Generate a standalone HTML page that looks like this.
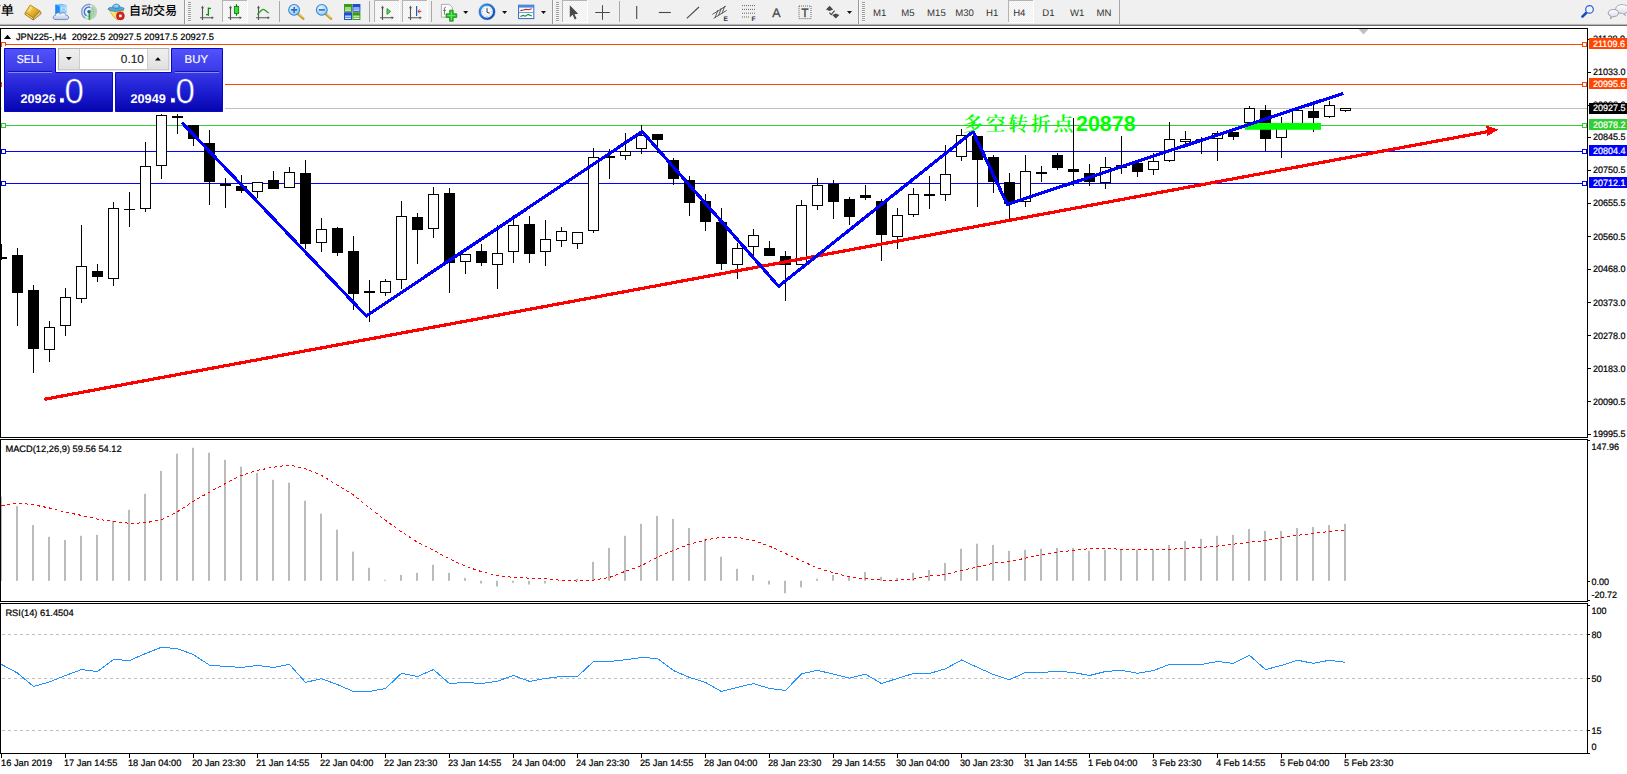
<!DOCTYPE html>
<html lang="zh"><head><meta charset="utf-8"><title>JPN225-,H4</title>
<style>html,body{margin:0;padding:0;background:#fff;overflow:hidden}body{width:1627px;height:774px;position:relative;font-family:"Liberation Sans", sans-serif}svg text{white-space:pre}</style></head>
<body>
<svg width="1627" height="774" viewBox="0 0 1627 774" style="position:absolute;left:0;top:0;font-family:'Liberation Sans', sans-serif" text-rendering="geometricPrecision">
<rect x="0" y="0" width="1627" height="774" fill="#fff" />
<g shape-rendering="crispEdges">
<rect x="1" y="44" width="1586" height="1" fill="#ff4500" />
<rect x="1" y="84" width="1586" height="1" fill="#ff4500" />
<rect x="1" y="108" width="1586" height="1" fill="#c0c0c0" />
<rect x="1" y="125" width="1586" height="1" fill="#32cd32" />
<rect x="1" y="151" width="1586" height="1" fill="#0000ff" />
<rect x="1" y="183" width="1586" height="1" fill="#0000ff" />
<polygon points="1358.5,29 1368.5,29 1363.5,34.5" fill="#c0c0c0" shape-rendering="geometricPrecision"/>
<line x1="2" y1="634.5" x2="1587" y2="634.5" stroke="#bebebe" stroke-width="1" stroke-dasharray="3,3"/>
<line x1="2" y1="678.5" x2="1587" y2="678.5" stroke="#bebebe" stroke-width="1" stroke-dasharray="3,3"/>
<line x1="2" y1="730.5" x2="1587" y2="730.5" stroke="#bebebe" stroke-width="1" stroke-dasharray="3,3"/>
<rect x="0" y="496.7" width="2" height="84.1" fill="#bbbbbb" shape-rendering="geometricPrecision"/>
<rect x="16" y="506.1" width="2" height="74.7" fill="#bbbbbb" shape-rendering="geometricPrecision"/>
<rect x="32" y="525" width="2" height="55.8" fill="#bbbbbb" shape-rendering="geometricPrecision"/>
<rect x="48" y="536.8" width="2" height="44" fill="#bbbbbb" shape-rendering="geometricPrecision"/>
<rect x="64" y="540" width="2" height="40.8" fill="#bbbbbb" shape-rendering="geometricPrecision"/>
<rect x="80" y="535.8" width="2" height="45" fill="#bbbbbb" shape-rendering="geometricPrecision"/>
<rect x="96" y="534.8" width="2" height="46" fill="#bbbbbb" shape-rendering="geometricPrecision"/>
<rect x="112" y="520.8" width="2" height="60" fill="#bbbbbb" shape-rendering="geometricPrecision"/>
<rect x="128" y="509.8" width="2" height="71" fill="#bbbbbb" shape-rendering="geometricPrecision"/>
<rect x="144" y="493.8" width="2" height="87" fill="#bbbbbb" shape-rendering="geometricPrecision"/>
<rect x="160" y="470.9" width="2" height="109.9" fill="#bbbbbb" shape-rendering="geometricPrecision"/>
<rect x="176" y="453.7" width="2" height="127.1" fill="#bbbbbb" shape-rendering="geometricPrecision"/>
<rect x="192" y="447.8" width="2" height="133" fill="#bbbbbb" shape-rendering="geometricPrecision"/>
<rect x="208" y="452.7" width="2" height="128.1" fill="#bbbbbb" shape-rendering="geometricPrecision"/>
<rect x="224" y="459.8" width="2" height="121" fill="#bbbbbb" shape-rendering="geometricPrecision"/>
<rect x="240" y="466.7" width="2" height="114.1" fill="#bbbbbb" shape-rendering="geometricPrecision"/>
<rect x="256" y="472.9" width="2" height="107.9" fill="#bbbbbb" shape-rendering="geometricPrecision"/>
<rect x="272" y="479.8" width="2" height="101" fill="#bbbbbb" shape-rendering="geometricPrecision"/>
<rect x="288" y="482.7" width="2" height="98.1" fill="#bbbbbb" shape-rendering="geometricPrecision"/>
<rect x="304" y="500.7" width="2" height="80.1" fill="#bbbbbb" shape-rendering="geometricPrecision"/>
<rect x="320" y="513.7" width="2" height="67.1" fill="#bbbbbb" shape-rendering="geometricPrecision"/>
<rect x="336" y="529.7" width="2" height="51.1" fill="#bbbbbb" shape-rendering="geometricPrecision"/>
<rect x="352" y="551.6" width="2" height="29.2" fill="#bbbbbb" shape-rendering="geometricPrecision"/>
<rect x="368" y="567.8" width="2" height="13" fill="#bbbbbb" shape-rendering="geometricPrecision"/>
<rect x="384" y="579.8" width="2" height="1" fill="#bbbbbb" shape-rendering="geometricPrecision"/>
<rect x="400" y="574.9" width="2" height="5.9" fill="#bbbbbb" shape-rendering="geometricPrecision"/>
<rect x="416" y="572.9" width="2" height="7.9" fill="#bbbbbb" shape-rendering="geometricPrecision"/>
<rect x="432" y="564.8" width="2" height="16" fill="#bbbbbb" shape-rendering="geometricPrecision"/>
<rect x="448" y="572.9" width="2" height="7.9" fill="#bbbbbb" shape-rendering="geometricPrecision"/>
<rect x="464" y="577.9" width="2" height="2.9" fill="#bbbbbb" shape-rendering="geometricPrecision"/>
<rect x="480" y="580.8" width="2" height="2.7" fill="#bbbbbb" shape-rendering="geometricPrecision"/>
<rect x="496" y="580.8" width="2" height="5.7" fill="#bbbbbb" shape-rendering="geometricPrecision"/>
<rect x="512" y="580.8" width="2" height="2" fill="#bbbbbb" shape-rendering="geometricPrecision"/>
<rect x="528" y="580.8" width="2" height="3.7" fill="#bbbbbb" shape-rendering="geometricPrecision"/>
<rect x="544" y="580.8" width="2" height="2.7" fill="#bbbbbb" shape-rendering="geometricPrecision"/>
<rect x="560" y="580.8" width="2" height="0.5" fill="#bbbbbb" shape-rendering="geometricPrecision"/>
<rect x="576" y="578.8" width="2" height="2" fill="#bbbbbb" shape-rendering="geometricPrecision"/>
<rect x="592" y="561.9" width="2" height="18.9" fill="#bbbbbb" shape-rendering="geometricPrecision"/>
<rect x="608" y="547.9" width="2" height="32.9" fill="#bbbbbb" shape-rendering="geometricPrecision"/>
<rect x="624" y="535.8" width="2" height="45" fill="#bbbbbb" shape-rendering="geometricPrecision"/>
<rect x="640" y="523.8" width="2" height="57" fill="#bbbbbb" shape-rendering="geometricPrecision"/>
<rect x="656" y="515.9" width="2" height="64.9" fill="#bbbbbb" shape-rendering="geometricPrecision"/>
<rect x="672" y="518.9" width="2" height="61.9" fill="#bbbbbb" shape-rendering="geometricPrecision"/>
<rect x="688" y="528" width="2" height="52.8" fill="#bbbbbb" shape-rendering="geometricPrecision"/>
<rect x="704" y="538.8" width="2" height="42" fill="#bbbbbb" shape-rendering="geometricPrecision"/>
<rect x="720" y="556.7" width="2" height="24.1" fill="#bbbbbb" shape-rendering="geometricPrecision"/>
<rect x="736" y="568.8" width="2" height="12" fill="#bbbbbb" shape-rendering="geometricPrecision"/>
<rect x="752" y="574.9" width="2" height="5.9" fill="#bbbbbb" shape-rendering="geometricPrecision"/>
<rect x="768" y="580.8" width="2" height="3.7" fill="#bbbbbb" shape-rendering="geometricPrecision"/>
<rect x="784" y="580.8" width="2" height="12.5" fill="#bbbbbb" shape-rendering="geometricPrecision"/>
<rect x="800" y="580.8" width="2" height="6.6" fill="#bbbbbb" shape-rendering="geometricPrecision"/>
<rect x="816" y="578.8" width="2" height="2" fill="#bbbbbb" shape-rendering="geometricPrecision"/>
<rect x="832" y="574.9" width="2" height="5.9" fill="#bbbbbb" shape-rendering="geometricPrecision"/>
<rect x="848" y="576.4" width="2" height="4.4" fill="#bbbbbb" shape-rendering="geometricPrecision"/>
<rect x="864" y="572" width="2" height="8.8" fill="#bbbbbb" shape-rendering="geometricPrecision"/>
<rect x="880" y="576.9" width="2" height="3.9" fill="#bbbbbb" shape-rendering="geometricPrecision"/>
<rect x="896" y="578.1" width="2" height="2.7" fill="#bbbbbb" shape-rendering="geometricPrecision"/>
<rect x="912" y="572.9" width="2" height="7.9" fill="#bbbbbb" shape-rendering="geometricPrecision"/>
<rect x="928" y="570" width="2" height="10.8" fill="#bbbbbb" shape-rendering="geometricPrecision"/>
<rect x="944" y="562.9" width="2" height="17.9" fill="#bbbbbb" shape-rendering="geometricPrecision"/>
<rect x="960" y="548.8" width="2" height="32" fill="#bbbbbb" shape-rendering="geometricPrecision"/>
<rect x="976" y="543.7" width="2" height="37.1" fill="#bbbbbb" shape-rendering="geometricPrecision"/>
<rect x="992" y="544.9" width="2" height="35.9" fill="#bbbbbb" shape-rendering="geometricPrecision"/>
<rect x="1008" y="550.8" width="2" height="30" fill="#bbbbbb" shape-rendering="geometricPrecision"/>
<rect x="1024" y="549.8" width="2" height="31" fill="#bbbbbb" shape-rendering="geometricPrecision"/>
<rect x="1040" y="548.8" width="2" height="32" fill="#bbbbbb" shape-rendering="geometricPrecision"/>
<rect x="1056" y="547.9" width="2" height="32.9" fill="#bbbbbb" shape-rendering="geometricPrecision"/>
<rect x="1072" y="547.9" width="2" height="32.9" fill="#bbbbbb" shape-rendering="geometricPrecision"/>
<rect x="1088" y="550.8" width="2" height="30" fill="#bbbbbb" shape-rendering="geometricPrecision"/>
<rect x="1104" y="549.8" width="2" height="31" fill="#bbbbbb" shape-rendering="geometricPrecision"/>
<rect x="1120" y="549.1" width="2" height="31.7" fill="#bbbbbb" shape-rendering="geometricPrecision"/>
<rect x="1136" y="549.6" width="2" height="31.2" fill="#bbbbbb" shape-rendering="geometricPrecision"/>
<rect x="1152" y="549.6" width="2" height="31.2" fill="#bbbbbb" shape-rendering="geometricPrecision"/>
<rect x="1168" y="544.9" width="2" height="35.9" fill="#bbbbbb" shape-rendering="geometricPrecision"/>
<rect x="1184" y="541" width="2" height="39.8" fill="#bbbbbb" shape-rendering="geometricPrecision"/>
<rect x="1200" y="538.8" width="2" height="42" fill="#bbbbbb" shape-rendering="geometricPrecision"/>
<rect x="1216" y="535.8" width="2" height="45" fill="#bbbbbb" shape-rendering="geometricPrecision"/>
<rect x="1232" y="534.8" width="2" height="46" fill="#bbbbbb" shape-rendering="geometricPrecision"/>
<rect x="1248" y="528.9" width="2" height="51.9" fill="#bbbbbb" shape-rendering="geometricPrecision"/>
<rect x="1264" y="530.9" width="2" height="49.9" fill="#bbbbbb" shape-rendering="geometricPrecision"/>
<rect x="1280" y="530.9" width="2" height="49.9" fill="#bbbbbb" shape-rendering="geometricPrecision"/>
<rect x="1296" y="528" width="2" height="52.8" fill="#bbbbbb" shape-rendering="geometricPrecision"/>
<rect x="1312" y="527" width="2" height="53.8" fill="#bbbbbb" shape-rendering="geometricPrecision"/>
<rect x="1328" y="525" width="2" height="55.8" fill="#bbbbbb" shape-rendering="geometricPrecision"/>
<rect x="1344" y="523.8" width="2" height="57" fill="#bbbbbb" shape-rendering="geometricPrecision"/>
</g>
<g shape-rendering="crispEdges">
<rect x="1" y="244" width="1" height="16" fill="#000" />
<rect x="1" y="257" width="6" height="2" fill="#000" />
<rect x="17" y="248" width="1" height="78" fill="#000" />
<rect x="12" y="255" width="11" height="38" fill="#000" />
<rect x="33" y="285" width="1" height="88" fill="#000" />
<rect x="28" y="290" width="11" height="59" fill="#000" />
<rect x="49" y="321" width="1" height="41" fill="#000" />
<rect x="44.5" y="327.5" width="10" height="22" fill="#fff" stroke="#000" stroke-width="1"/>
<rect x="65" y="288" width="1" height="48" fill="#000" />
<rect x="60.5" y="297.5" width="10" height="28" fill="#fff" stroke="#000" stroke-width="1"/>
<rect x="81" y="225" width="1" height="78" fill="#000" />
<rect x="76.5" y="266.5" width="10" height="32" fill="#fff" stroke="#000" stroke-width="1"/>
<rect x="97" y="264" width="1" height="18" fill="#000" />
<rect x="92" y="271" width="11" height="6" fill="#000" />
<rect x="113" y="202" width="1" height="84" fill="#000" />
<rect x="108.5" y="208.5" width="10" height="70" fill="#fff" stroke="#000" stroke-width="1"/>
<rect x="129" y="192" width="1" height="35" fill="#000" />
<rect x="124" y="209" width="11" height="1" fill="#000" />
<rect x="145" y="142" width="1" height="70" fill="#000" />
<rect x="140.5" y="166.5" width="10" height="42" fill="#fff" stroke="#000" stroke-width="1"/>
<rect x="161" y="114" width="1" height="65" fill="#000" />
<rect x="156.5" y="115.5" width="10" height="50" fill="#fff" stroke="#000" stroke-width="1"/>
<rect x="177" y="114" width="1" height="20" fill="#000" />
<rect x="172" y="116" width="11" height="2" fill="#000" />
<rect x="193" y="125" width="1" height="21" fill="#000" />
<rect x="188" y="125" width="11" height="14" fill="#000" />
<rect x="209" y="130" width="1" height="75" fill="#000" />
<rect x="204" y="143" width="11" height="39" fill="#000" />
<rect x="225" y="178" width="1" height="30" fill="#000" />
<rect x="220" y="184" width="11" height="2" fill="#000" />
<rect x="241" y="175" width="1" height="18" fill="#000" />
<rect x="236" y="186" width="11" height="5" fill="#000" />
<rect x="257" y="182" width="1" height="16" fill="#000" />
<rect x="252.5" y="182.5" width="10" height="9" fill="#fff" stroke="#000" stroke-width="1"/>
<rect x="273" y="171" width="1" height="18" fill="#000" />
<rect x="268" y="180" width="11" height="9" fill="#000" />
<rect x="289" y="167" width="1" height="21" fill="#000" />
<rect x="284.5" y="172.5" width="10" height="15" fill="#fff" stroke="#000" stroke-width="1"/>
<rect x="305" y="160" width="1" height="89" fill="#000" />
<rect x="300" y="173" width="11" height="71" fill="#000" />
<rect x="321" y="218" width="1" height="34" fill="#000" />
<rect x="316.5" y="229.5" width="10" height="13" fill="#fff" stroke="#000" stroke-width="1"/>
<rect x="337" y="227" width="1" height="29" fill="#000" />
<rect x="332" y="228" width="11" height="25" fill="#000" />
<rect x="353" y="236" width="1" height="74" fill="#000" />
<rect x="348" y="251" width="11" height="43" fill="#000" />
<rect x="369" y="280" width="1" height="42" fill="#000" />
<rect x="364" y="291" width="11" height="2" fill="#000" />
<rect x="385" y="279" width="1" height="17" fill="#000" />
<rect x="380.5" y="281.5" width="10" height="11" fill="#fff" stroke="#000" stroke-width="1"/>
<rect x="401" y="201" width="1" height="88" fill="#000" />
<rect x="396.5" y="216.5" width="10" height="63" fill="#fff" stroke="#000" stroke-width="1"/>
<rect x="417" y="213" width="1" height="51" fill="#000" />
<rect x="412" y="217" width="11" height="13" fill="#000" />
<rect x="433" y="187" width="1" height="51" fill="#000" />
<rect x="428.5" y="194.5" width="10" height="34" fill="#fff" stroke="#000" stroke-width="1"/>
<rect x="449" y="188" width="1" height="105" fill="#000" />
<rect x="444" y="193" width="11" height="70" fill="#000" />
<rect x="465" y="254" width="1" height="20" fill="#000" />
<rect x="460.5" y="254.5" width="10" height="7" fill="#fff" stroke="#000" stroke-width="1"/>
<rect x="481" y="244" width="1" height="22" fill="#000" />
<rect x="476" y="251" width="11" height="12" fill="#000" />
<rect x="497" y="225" width="1" height="64" fill="#000" />
<rect x="492.5" y="253.5" width="10" height="11" fill="#fff" stroke="#000" stroke-width="1"/>
<rect x="513" y="215" width="1" height="48" fill="#000" />
<rect x="508.5" y="225.5" width="10" height="26" fill="#fff" stroke="#000" stroke-width="1"/>
<rect x="529" y="216" width="1" height="47" fill="#000" />
<rect x="524" y="224" width="11" height="30" fill="#000" />
<rect x="545" y="220" width="1" height="46" fill="#000" />
<rect x="540.5" y="239.5" width="10" height="12" fill="#fff" stroke="#000" stroke-width="1"/>
<rect x="561" y="227" width="1" height="20" fill="#000" />
<rect x="556.5" y="231.5" width="10" height="9" fill="#fff" stroke="#000" stroke-width="1"/>
<rect x="577" y="232" width="1" height="17" fill="#000" />
<rect x="572.5" y="232.5" width="10" height="11" fill="#fff" stroke="#000" stroke-width="1"/>
<rect x="593" y="148" width="1" height="85" fill="#000" />
<rect x="588.5" y="157.5" width="10" height="73" fill="#fff" stroke="#000" stroke-width="1"/>
<rect x="609" y="149" width="1" height="30" fill="#000" />
<rect x="604" y="156" width="11" height="2" fill="#000" />
<rect x="625" y="133" width="1" height="27" fill="#000" />
<rect x="620.5" y="151.5" width="10" height="4" fill="#fff" stroke="#000" stroke-width="1"/>
<rect x="641" y="125" width="1" height="29" fill="#000" />
<rect x="636.5" y="135.5" width="10" height="13" fill="#fff" stroke="#000" stroke-width="1"/>
<rect x="657" y="134" width="1" height="19" fill="#000" />
<rect x="652" y="134" width="11" height="6" fill="#000" />
<rect x="673" y="158" width="1" height="27" fill="#000" />
<rect x="668" y="160" width="11" height="19" fill="#000" />
<rect x="689" y="176" width="1" height="40" fill="#000" />
<rect x="684" y="180" width="11" height="23" fill="#000" />
<rect x="705" y="194" width="1" height="37" fill="#000" />
<rect x="700" y="201" width="11" height="21" fill="#000" />
<rect x="721" y="208" width="1" height="62" fill="#000" />
<rect x="716" y="222" width="11" height="42" fill="#000" />
<rect x="737" y="243" width="1" height="36" fill="#000" />
<rect x="732.5" y="248.5" width="10" height="16" fill="#fff" stroke="#000" stroke-width="1"/>
<rect x="753" y="229" width="1" height="29" fill="#000" />
<rect x="748.5" y="235.5" width="10" height="11" fill="#fff" stroke="#000" stroke-width="1"/>
<rect x="769" y="241" width="1" height="15" fill="#000" />
<rect x="764" y="248" width="11" height="8" fill="#000" />
<rect x="785" y="251" width="1" height="50" fill="#000" />
<rect x="780" y="256" width="11" height="9" fill="#000" />
<rect x="801" y="200" width="1" height="65" fill="#000" />
<rect x="796.5" y="205.5" width="10" height="59" fill="#fff" stroke="#000" stroke-width="1"/>
<rect x="817" y="178" width="1" height="32" fill="#000" />
<rect x="812.5" y="185.5" width="10" height="20" fill="#fff" stroke="#000" stroke-width="1"/>
<rect x="833" y="180" width="1" height="39" fill="#000" />
<rect x="828" y="184" width="11" height="18" fill="#000" />
<rect x="849" y="197" width="1" height="28" fill="#000" />
<rect x="844" y="199" width="11" height="18" fill="#000" />
<rect x="865" y="185" width="1" height="15" fill="#000" />
<rect x="860" y="195" width="11" height="3" fill="#000" />
<rect x="881" y="199" width="1" height="62" fill="#000" />
<rect x="876" y="201" width="11" height="34" fill="#000" />
<rect x="897" y="208" width="1" height="41" fill="#000" />
<rect x="892.5" y="215.5" width="10" height="21" fill="#fff" stroke="#000" stroke-width="1"/>
<rect x="913" y="188" width="1" height="29" fill="#000" />
<rect x="908.5" y="194.5" width="10" height="20" fill="#fff" stroke="#000" stroke-width="1"/>
<rect x="929" y="176" width="1" height="33" fill="#000" />
<rect x="924" y="194" width="11" height="2" fill="#000" />
<rect x="945" y="145" width="1" height="56" fill="#000" />
<rect x="940.5" y="174.5" width="10" height="20" fill="#fff" stroke="#000" stroke-width="1"/>
<rect x="961" y="129" width="1" height="32" fill="#000" />
<rect x="956.5" y="135.5" width="10" height="21" fill="#fff" stroke="#000" stroke-width="1"/>
<rect x="977" y="136" width="1" height="71" fill="#000" />
<rect x="972" y="136" width="11" height="24" fill="#000" />
<rect x="993" y="155" width="1" height="38" fill="#000" />
<rect x="988" y="157" width="11" height="25" fill="#000" />
<rect x="1009" y="173" width="1" height="46" fill="#000" />
<rect x="1004" y="182" width="11" height="22" fill="#000" />
<rect x="1025" y="155" width="1" height="52" fill="#000" />
<rect x="1020.5" y="171.5" width="10" height="30" fill="#fff" stroke="#000" stroke-width="1"/>
<rect x="1041" y="166" width="1" height="16" fill="#000" />
<rect x="1036" y="172" width="11" height="2" fill="#000" />
<rect x="1057" y="153" width="1" height="17" fill="#000" />
<rect x="1052" y="155" width="11" height="13" fill="#000" />
<rect x="1073" y="118" width="1" height="68" fill="#000" />
<rect x="1068" y="169" width="11" height="3" fill="#000" />
<rect x="1089" y="164" width="1" height="22" fill="#000" />
<rect x="1084" y="173" width="11" height="9" fill="#000" />
<rect x="1105" y="157" width="1" height="32" fill="#000" />
<rect x="1100.5" y="167.5" width="10" height="15" fill="#fff" stroke="#000" stroke-width="1"/>
<rect x="1121" y="136" width="1" height="38" fill="#000" />
<rect x="1116.5" y="165.5" width="10" height="2" fill="#fff" stroke="#000" stroke-width="1"/>
<rect x="1137" y="163" width="1" height="14" fill="#000" />
<rect x="1132" y="163" width="11" height="9" fill="#000" />
<rect x="1153" y="153" width="1" height="22" fill="#000" />
<rect x="1148.5" y="161.5" width="10" height="8" fill="#fff" stroke="#000" stroke-width="1"/>
<rect x="1169" y="122" width="1" height="40" fill="#000" />
<rect x="1164.5" y="139.5" width="10" height="21" fill="#fff" stroke="#000" stroke-width="1"/>
<rect x="1185" y="131" width="1" height="14" fill="#000" />
<rect x="1180.5" y="139.5" width="10" height="2" fill="#fff" stroke="#000" stroke-width="1"/>
<rect x="1201" y="137" width="1" height="17" fill="#000" />
<rect x="1196" y="139" width="11" height="1" fill="#000" />
<rect x="1217" y="131" width="1" height="30" fill="#000" />
<rect x="1212.5" y="133.5" width="10" height="5" fill="#fff" stroke="#000" stroke-width="1"/>
<rect x="1233" y="132" width="1" height="8" fill="#000" />
<rect x="1228" y="132" width="11" height="5" fill="#000" />
<rect x="1249" y="106" width="1" height="18" fill="#000" />
<rect x="1244.5" y="108.5" width="10" height="14" fill="#fff" stroke="#000" stroke-width="1"/>
<rect x="1265" y="105" width="1" height="46" fill="#000" />
<rect x="1260" y="110" width="11" height="29" fill="#000" />
<rect x="1281" y="117" width="1" height="41" fill="#000" />
<rect x="1276.5" y="125.5" width="10" height="12" fill="#fff" stroke="#000" stroke-width="1"/>
<rect x="1297" y="110" width="1" height="15" fill="#000" />
<rect x="1292.5" y="110.5" width="10" height="14" fill="#fff" stroke="#000" stroke-width="1"/>
<rect x="1313" y="104" width="1" height="28" fill="#000" />
<rect x="1308" y="111" width="11" height="7" fill="#000" />
<rect x="1329" y="101" width="1" height="17" fill="#000" />
<rect x="1324.5" y="105.5" width="10" height="11" fill="#fff" stroke="#000" stroke-width="1"/>
<rect x="1345" y="108" width="1" height="4" fill="#000" />
<rect x="1340.5" y="108.5" width="10" height="2" fill="#fff" stroke="#000" stroke-width="1"/>
</g>
<rect x="1245" y="123" width="76" height="6.8" fill="#00ff00" />
<g shape-rendering="crispEdges">
<line x1="44.3" y1="399.3" x2="1490" y2="131.2" stroke="#ff0000" stroke-width="3.2"/>
<polygon points="1498.5,129.6 1486.3,125.6 1487.4,136" fill="#ff0000"/>
<polyline points="182,122.6 366.3,316 642.2,131.6 778.6,286.3 973,131.6 1007.3,204.4 1343.4,93.3" fill="none" stroke="#0000ff" stroke-width="3.2" stroke-linejoin="round"/>
</g>
<text x="963" y="130.9" font-size="19.8" fill="#00ff00" font-weight="600" textLength="110.4" lengthAdjust="spacing" font-family="'Noto Serif CJK SC', serif">多空转折点</text>
<text x="1076" y="131.4" font-size="21.6" fill="#00ff00" font-weight="bold" textLength="59.6" lengthAdjust="spacingAndGlyphs">20878</text>
<polyline points="1.5,505.6 17.5,502.9 33.5,504.8 49.5,508 65.5,512.2 81.5,515.4 97.5,519.1 113.5,521.6 129.5,523.3 145.5,522.8 161.5,519.6 177.5,511.7 193.5,501.2 209.5,492.1 225.5,483.4 241.5,475.3 257.5,470.4 273.5,467.2 289.5,465 305.5,468.7 321.5,475.3 337.5,485.2 353.5,495 369.5,507.8 385.5,520.3 401.5,531.9 417.5,542.2 433.5,550.3 449.5,558.9 465.5,566.3 481.5,571.7 497.5,575.6 513.5,577.4 529.5,578.1 545.5,578.8 561.5,580.3 577.5,581.1 593.5,580.1 609.5,577.4 625.5,571.2 641.5,565.6 657.5,557.2 673.5,550.3 689.5,544.2 705.5,540 721.5,537.3 737.5,537.3 753.5,540.5 769.5,546.1 785.5,553.5 801.5,560.9 817.5,568 833.5,572.9 849.5,576.9 865.5,578.8 881.5,580.1 897.5,580.1 913.5,579.1 929.5,576.1 945.5,574.4 961.5,570.5 977.5,567 993.5,563.1 1009.5,561.4 1025.5,558.2 1041.5,554.7 1057.5,552.3 1073.5,550.3 1089.5,548.6 1105.5,548.4 1121.5,549.3 1137.5,549.6 1153.5,549.6 1169.5,549.3 1185.5,548.4 1201.5,547.4 1217.5,546.1 1233.5,544.2 1249.5,542.2 1265.5,540.5 1281.5,537.3 1297.5,535.3 1313.5,533.4 1329.5,531.4 1345.5,530.2" fill="none" stroke="#ff0000" stroke-width="1" stroke-dasharray="3,3" shape-rendering="crispEdges"/>
<polyline points="1.5,664.4 17.5,673 33.5,686.5 49.5,681.9 65.5,675.5 81.5,669.6 97.5,671.5 113.5,659.5 129.5,660.5 145.5,653.6 161.5,647.2 177.5,648.7 193.5,654.6 209.5,665.2 225.5,666.4 241.5,667.4 257.5,665.4 273.5,667.4 289.5,664.4 305.5,682.4 321.5,678.7 337.5,684.6 353.5,691.5 369.5,691.5 385.5,688.5 401.5,673.3 417.5,676.5 433.5,669.6 449.5,683.6 465.5,682.4 481.5,683.6 497.5,681.1 513.5,675.5 529.5,681.4 545.5,678.4 561.5,676.5 577.5,676.5 593.5,661.5 609.5,661.5 625.5,659.7 641.5,657.5 657.5,658.5 673.5,670.6 689.5,677.4 705.5,682.4 721.5,691.5 737.5,687.3 753.5,683.6 769.5,688.5 785.5,690.5 801.5,673.8 817.5,670.3 833.5,674.2 849.5,678.2 865.5,674.2 881.5,683.6 897.5,678.4 913.5,673.5 929.5,673.5 945.5,668.8 961.5,660 977.5,667.4 993.5,674.5 1009.5,679.7 1025.5,672.5 1041.5,672.5 1057.5,671.3 1073.5,672.5 1089.5,675.5 1105.5,671.5 1121.5,670.3 1137.5,673.3 1153.5,670.6 1169.5,664.4 1185.5,664.4 1201.5,664.4 1217.5,661.5 1233.5,663.4 1249.5,655.3 1265.5,669.6 1281.5,665.4 1297.5,660.2 1313.5,663.4 1329.5,660.2 1345.5,662.4" fill="none" stroke="#1e90ff" stroke-width="1" stroke-linejoin="round" shape-rendering="crispEdges"/>
<g shape-rendering="crispEdges">
<rect x="0" y="28" width="1" height="726" fill="#000" />
<rect x="0" y="28" width="1588" height="1" fill="#000" />
<rect x="1587" y="28" width="1" height="726" fill="#000" />
<rect x="0" y="437" width="1588" height="1" fill="#000" />
<rect x="0" y="438" width="1588" height="1" fill="#fff" />
<rect x="0" y="439" width="1588" height="1" fill="#000" />
<rect x="0" y="601" width="1588" height="1" fill="#000" />
<rect x="0" y="602" width="1588" height="1" fill="#fff" />
<rect x="0" y="603" width="1588" height="1" fill="#000" />
<rect x="0" y="753" width="1588" height="1" fill="#000" />
<rect x="1" y="754" width="1" height="4" fill="#000" />
<rect x="65" y="754" width="1" height="4" fill="#000" />
<rect x="129" y="754" width="1" height="4" fill="#000" />
<rect x="193" y="754" width="1" height="4" fill="#000" />
<rect x="257" y="754" width="1" height="4" fill="#000" />
<rect x="321" y="754" width="1" height="4" fill="#000" />
<rect x="385" y="754" width="1" height="4" fill="#000" />
<rect x="449" y="754" width="1" height="4" fill="#000" />
<rect x="513" y="754" width="1" height="4" fill="#000" />
<rect x="577" y="754" width="1" height="4" fill="#000" />
<rect x="641" y="754" width="1" height="4" fill="#000" />
<rect x="705" y="754" width="1" height="4" fill="#000" />
<rect x="769" y="754" width="1" height="4" fill="#000" />
<rect x="833" y="754" width="1" height="4" fill="#000" />
<rect x="897" y="754" width="1" height="4" fill="#000" />
<rect x="961" y="754" width="1" height="4" fill="#000" />
<rect x="1025" y="754" width="1" height="4" fill="#000" />
<rect x="1089" y="754" width="1" height="4" fill="#000" />
<rect x="1153" y="754" width="1" height="4" fill="#000" />
<rect x="1217" y="754" width="1" height="4" fill="#000" />
<rect x="1281" y="754" width="1" height="4" fill="#000" />
<rect x="1345" y="754" width="1" height="4" fill="#000" />
<rect x="1588" y="39" width="3" height="1" fill="#000" />
<rect x="1588" y="72" width="3" height="1" fill="#000" />
<rect x="1588" y="105" width="3" height="1" fill="#000" />
<rect x="1588" y="137" width="3" height="1" fill="#000" />
<rect x="1588" y="170" width="3" height="1" fill="#000" />
<rect x="1588" y="203" width="3" height="1" fill="#000" />
<rect x="1588" y="236" width="3" height="1" fill="#000" />
<rect x="1588" y="269" width="3" height="1" fill="#000" />
<rect x="1588" y="302" width="3" height="1" fill="#000" />
<rect x="1588" y="335" width="3" height="1" fill="#000" />
<rect x="1588" y="368" width="3" height="1" fill="#000" />
<rect x="1588" y="401" width="3" height="1" fill="#000" />
<rect x="1588" y="434" width="3" height="1" fill="#000" />
<rect x="1588" y="440" width="2" height="1" fill="#000" />
<rect x="1588" y="581" width="2" height="1" fill="#000" />
<rect x="1588" y="600" width="2" height="1" fill="#000" />
<rect x="1588" y="605" width="2" height="1" fill="#000" />
<rect x="1588" y="634" width="2" height="1" fill="#000" />
<rect x="1588" y="678" width="2" height="1" fill="#000" />
<rect x="1588" y="730" width="2" height="1" fill="#000" />
<rect x="1588" y="753" width="2" height="1" fill="#000" />
</g>
<text transform="translate(1593,41.73) scale(0.97,1)" font-size="9.3" fill="#000" stroke="#000" stroke-width="0.22" text-anchor="start" font-weight="normal" >21128.0</text>
<text transform="translate(1593,74.93) scale(0.97,1)" font-size="9.3" fill="#000" stroke="#000" stroke-width="0.22" text-anchor="start" font-weight="normal" >21033.0</text>
<text transform="translate(1593,107.83) scale(0.97,1)" font-size="9.3" fill="#000" stroke="#000" stroke-width="0.22" text-anchor="start" font-weight="normal" >20938.0</text>
<text transform="translate(1593,140.23) scale(0.97,1)" font-size="9.3" fill="#000" stroke="#000" stroke-width="0.22" text-anchor="start" font-weight="normal" >20845.5</text>
<text transform="translate(1593,173.23) scale(0.97,1)" font-size="9.3" fill="#000" stroke="#000" stroke-width="0.22" text-anchor="start" font-weight="normal" >20750.5</text>
<text transform="translate(1593,206.43) scale(0.97,1)" font-size="9.3" fill="#000" stroke="#000" stroke-width="0.22" text-anchor="start" font-weight="normal" >20655.5</text>
<text transform="translate(1593,239.53) scale(0.97,1)" font-size="9.3" fill="#000" stroke="#000" stroke-width="0.22" text-anchor="start" font-weight="normal" >20560.5</text>
<text transform="translate(1593,272.43) scale(0.97,1)" font-size="9.3" fill="#000" stroke="#000" stroke-width="0.22" text-anchor="start" font-weight="normal" >20468.0</text>
<text transform="translate(1593,305.63) scale(0.97,1)" font-size="9.3" fill="#000" stroke="#000" stroke-width="0.22" text-anchor="start" font-weight="normal" >20373.0</text>
<text transform="translate(1593,338.63) scale(0.97,1)" font-size="9.3" fill="#000" stroke="#000" stroke-width="0.22" text-anchor="start" font-weight="normal" >20278.0</text>
<text transform="translate(1593,371.63) scale(0.97,1)" font-size="9.3" fill="#000" stroke="#000" stroke-width="0.22" text-anchor="start" font-weight="normal" >20183.0</text>
<text transform="translate(1593,404.53) scale(0.97,1)" font-size="9.3" fill="#000" stroke="#000" stroke-width="0.22" text-anchor="start" font-weight="normal" >20090.5</text>
<text transform="translate(1593,437.23) scale(0.97,1)" font-size="9.3" fill="#000" stroke="#000" stroke-width="0.22" text-anchor="start" font-weight="normal" >19995.5</text>
<text transform="translate(1591.5,449.63) scale(0.97,1)" font-size="9.3" fill="#000" stroke="#000" stroke-width="0.22" text-anchor="start" font-weight="normal" >147.96</text>
<text transform="translate(1591.5,584.93) scale(0.97,1)" font-size="9.3" fill="#000" stroke="#000" stroke-width="0.22" text-anchor="start" font-weight="normal" >0.00</text>
<text transform="translate(1591.5,597.93) scale(0.97,1)" font-size="9.3" fill="#000" stroke="#000" stroke-width="0.22" text-anchor="start" font-weight="normal" >-20.72</text>
<text transform="translate(1591.5,613.83) scale(0.97,1)" font-size="9.3" fill="#000" stroke="#000" stroke-width="0.22" text-anchor="start" font-weight="normal" >100</text>
<text transform="translate(1591.5,638.03) scale(0.97,1)" font-size="9.3" fill="#000" stroke="#000" stroke-width="0.22" text-anchor="start" font-weight="normal" >80</text>
<text transform="translate(1591.5,681.73) scale(0.97,1)" font-size="9.3" fill="#000" stroke="#000" stroke-width="0.22" text-anchor="start" font-weight="normal" >50</text>
<text transform="translate(1591.5,734.03) scale(0.97,1)" font-size="9.3" fill="#000" stroke="#000" stroke-width="0.22" text-anchor="start" font-weight="normal" >15</text>
<text transform="translate(1591.5,750.23) scale(0.97,1)" font-size="9.3" fill="#000" stroke="#000" stroke-width="0.22" text-anchor="start" font-weight="normal" >0</text>
<text transform="translate(1.1,766.13) scale(0.995,1)" font-size="9.3" fill="#000" stroke="#000" stroke-width="0.22" text-anchor="start" font-weight="normal" >16 Jan 2019</text>
<text transform="translate(63.9,766.13) scale(0.995,1)" font-size="9.3" fill="#000" stroke="#000" stroke-width="0.22" text-anchor="start" font-weight="normal" >17 Jan 14:55</text>
<text transform="translate(127.9,766.13) scale(0.995,1)" font-size="9.3" fill="#000" stroke="#000" stroke-width="0.22" text-anchor="start" font-weight="normal" >18 Jan 04:00</text>
<text transform="translate(191.9,766.13) scale(0.995,1)" font-size="9.3" fill="#000" stroke="#000" stroke-width="0.22" text-anchor="start" font-weight="normal" >20 Jan 23:30</text>
<text transform="translate(255.9,766.13) scale(0.995,1)" font-size="9.3" fill="#000" stroke="#000" stroke-width="0.22" text-anchor="start" font-weight="normal" >21 Jan 14:55</text>
<text transform="translate(319.9,766.13) scale(0.995,1)" font-size="9.3" fill="#000" stroke="#000" stroke-width="0.22" text-anchor="start" font-weight="normal" >22 Jan 04:00</text>
<text transform="translate(383.9,766.13) scale(0.995,1)" font-size="9.3" fill="#000" stroke="#000" stroke-width="0.22" text-anchor="start" font-weight="normal" >22 Jan 23:30</text>
<text transform="translate(447.9,766.13) scale(0.995,1)" font-size="9.3" fill="#000" stroke="#000" stroke-width="0.22" text-anchor="start" font-weight="normal" >23 Jan 14:55</text>
<text transform="translate(511.9,766.13) scale(0.995,1)" font-size="9.3" fill="#000" stroke="#000" stroke-width="0.22" text-anchor="start" font-weight="normal" >24 Jan 04:00</text>
<text transform="translate(575.9,766.13) scale(0.995,1)" font-size="9.3" fill="#000" stroke="#000" stroke-width="0.22" text-anchor="start" font-weight="normal" >24 Jan 23:30</text>
<text transform="translate(639.9,766.13) scale(0.995,1)" font-size="9.3" fill="#000" stroke="#000" stroke-width="0.22" text-anchor="start" font-weight="normal" >25 Jan 14:55</text>
<text transform="translate(703.9,766.13) scale(0.995,1)" font-size="9.3" fill="#000" stroke="#000" stroke-width="0.22" text-anchor="start" font-weight="normal" >28 Jan 04:00</text>
<text transform="translate(767.9,766.13) scale(0.995,1)" font-size="9.3" fill="#000" stroke="#000" stroke-width="0.22" text-anchor="start" font-weight="normal" >28 Jan 23:30</text>
<text transform="translate(831.9,766.13) scale(0.995,1)" font-size="9.3" fill="#000" stroke="#000" stroke-width="0.22" text-anchor="start" font-weight="normal" >29 Jan 14:55</text>
<text transform="translate(895.9,766.13) scale(0.995,1)" font-size="9.3" fill="#000" stroke="#000" stroke-width="0.22" text-anchor="start" font-weight="normal" >30 Jan 04:00</text>
<text transform="translate(959.9,766.13) scale(0.995,1)" font-size="9.3" fill="#000" stroke="#000" stroke-width="0.22" text-anchor="start" font-weight="normal" >30 Jan 23:30</text>
<text transform="translate(1023.9,766.13) scale(0.995,1)" font-size="9.3" fill="#000" stroke="#000" stroke-width="0.22" text-anchor="start" font-weight="normal" >31 Jan 14:55</text>
<text transform="translate(1087.9,766.13) scale(0.995,1)" font-size="9.3" fill="#000" stroke="#000" stroke-width="0.22" text-anchor="start" font-weight="normal" >1 Feb 04:00</text>
<text transform="translate(1151.9,766.13) scale(0.995,1)" font-size="9.3" fill="#000" stroke="#000" stroke-width="0.22" text-anchor="start" font-weight="normal" >3 Feb 23:30</text>
<text transform="translate(1215.9,766.13) scale(0.995,1)" font-size="9.3" fill="#000" stroke="#000" stroke-width="0.22" text-anchor="start" font-weight="normal" >4 Feb 14:55</text>
<text transform="translate(1279.9,766.13) scale(0.995,1)" font-size="9.3" fill="#000" stroke="#000" stroke-width="0.22" text-anchor="start" font-weight="normal" >5 Feb 04:00</text>
<text transform="translate(1343.9,766.13) scale(0.995,1)" font-size="9.3" fill="#000" stroke="#000" stroke-width="0.22" text-anchor="start" font-weight="normal" >5 Feb 23:30</text>
<rect x="1589" y="38" width="38" height="11" fill="#ff4500" shape-rendering="crispEdges"/>
<text transform="translate(1593,46.93) scale(0.97,1)" font-size="9.3" fill="#fff" stroke="#fff" stroke-width="0.22" text-anchor="start" font-weight="normal" >21109.6</text>
<rect x="1582.5" y="42.5" width="4" height="4" fill="#fff" stroke="#ff4500" stroke-width="1" shape-rendering="crispEdges"/>
<rect x="1.5" y="42.5" width="4" height="4" fill="#fff" stroke="#ff4500" stroke-width="1" shape-rendering="crispEdges"/>
<rect x="1589" y="78" width="38" height="11" fill="#ff4500" shape-rendering="crispEdges"/>
<text transform="translate(1593,86.93) scale(0.97,1)" font-size="9.3" fill="#fff" stroke="#fff" stroke-width="0.22" text-anchor="start" font-weight="normal" >20995.6</text>
<rect x="1582.5" y="82.5" width="4" height="4" fill="#fff" stroke="#ff4500" stroke-width="1" shape-rendering="crispEdges"/>
<rect x="1.5" y="82.5" width="4" height="4" fill="#fff" stroke="#ff4500" stroke-width="1" shape-rendering="crispEdges"/>
<rect x="1589" y="119" width="38" height="11" fill="#32cd32" shape-rendering="crispEdges"/>
<text transform="translate(1593,127.93) scale(0.97,1)" font-size="9.3" fill="#fff" stroke="#fff" stroke-width="0.22" text-anchor="start" font-weight="normal" >20878.2</text>
<rect x="1582.5" y="123.5" width="4" height="4" fill="#fff" stroke="#32cd32" stroke-width="1" shape-rendering="crispEdges"/>
<rect x="1.5" y="123.5" width="4" height="4" fill="#fff" stroke="#32cd32" stroke-width="1" shape-rendering="crispEdges"/>
<rect x="1589" y="145" width="38" height="11" fill="#0000ff" shape-rendering="crispEdges"/>
<text transform="translate(1593,153.93) scale(0.97,1)" font-size="9.3" fill="#fff" stroke="#fff" stroke-width="0.22" text-anchor="start" font-weight="normal" >20804.4</text>
<rect x="1582.5" y="149.5" width="4" height="4" fill="#fff" stroke="#0000ff" stroke-width="1" shape-rendering="crispEdges"/>
<rect x="1.5" y="149.5" width="4" height="4" fill="#fff" stroke="#0000ff" stroke-width="1" shape-rendering="crispEdges"/>
<rect x="1589" y="177" width="38" height="11" fill="#0000ff" shape-rendering="crispEdges"/>
<text transform="translate(1593,185.93) scale(0.97,1)" font-size="9.3" fill="#fff" stroke="#fff" stroke-width="0.22" text-anchor="start" font-weight="normal" >20712.1</text>
<rect x="1582.5" y="181.5" width="4" height="4" fill="#fff" stroke="#0000ff" stroke-width="1" shape-rendering="crispEdges"/>
<rect x="1.5" y="181.5" width="4" height="4" fill="#fff" stroke="#0000ff" stroke-width="1" shape-rendering="crispEdges"/>
<rect x="1589" y="103" width="38" height="11" fill="#000" shape-rendering="crispEdges"/>
<text transform="translate(1593,111.43) scale(0.97,1)" font-size="9.3" fill="#fff" stroke="#fff" stroke-width="0.22" text-anchor="start" font-weight="normal" >20927.5</text>
<polygon points="3.9,39.1 11.1,39.1 7.5,34.7" fill="#000"/>
<text transform="translate(15.9,39.83) scale(1.0,1)" font-size="9.3" fill="#000" stroke="#000" stroke-width="0.22" text-anchor="start" font-weight="normal" xml:space="preserve">JPN225-,H4&#160;&#160;20922.5 20927.5 20917.5 20927.5</text>
<text transform="translate(5.4,451.73) scale(1.0,1)" font-size="9.3" fill="#000" stroke="#000" stroke-width="0.22" text-anchor="start" font-weight="normal" >MACD(12,26,9) 59.56 54.12</text>
<text transform="translate(5.4,615.83) scale(1.0,1)" font-size="9.3" fill="#000" stroke="#000" stroke-width="0.22" text-anchor="start" font-weight="normal" >RSI(14) 61.4504</text>
<defs><linearGradient id="gPanel" gradientUnits="userSpaceOnUse" x1="0" y1="48" x2="0" y2="112"><stop offset="0" stop-color="#5454fc"/><stop offset="0.36" stop-color="#3a3ae8"/><stop offset="0.7" stop-color="#1c1cd0"/><stop offset="1" stop-color="#0404ac"/></linearGradient><linearGradient id="gBtn" x1="0" y1="0" x2="0" y2="1"><stop offset="0" stop-color="#f0f0f0"/><stop offset="1" stop-color="#e0e0e0"/></linearGradient></defs>
<rect x="2" y="46" width="223" height="67" fill="#fff" />
<path d="M4.5 48.5H55.5V72.5H112.5V111.5H4.5Z" fill="url(#gPanel)" stroke="#0808c4" stroke-width="1"/>
<path d="M171.5 48.5H222.5V111.5H115.5V72.5H171.5Z" fill="url(#gPanel)" stroke="#0808c4" stroke-width="1"/>
<rect x="8" y="71" width="44" height="1" fill="#1414b4" />
<rect x="8" y="72" width="44" height="1" fill="#8c8cf8" />
<rect x="175" y="71" width="44" height="1" fill="#1414b4" />
<rect x="175" y="72" width="44" height="1" fill="#8c8cf8" />
<rect x="58.4" y="48.5" width="110.4" height="21.3" fill="#fff" stroke="#ababab" stroke-width="1"/>
<rect x="59" y="49" width="20.4" height="20.3" fill="url(#gBtn)"/><rect x="79.2" y="49" width="0.8" height="20.3" fill="#c4c4c4"/>
<rect x="147.8" y="49" width="20.4" height="20.3" fill="url(#gBtn)"/><rect x="147.2" y="49" width="0.8" height="20.3" fill="#c4c4c4"/>
<polygon points="66,57 71.8,57 68.9,60.2" fill="#000"/>
<polygon points="155,60.4 160.8,60.4 157.9,57.2" fill="#000"/>
<text transform="translate(143.8,62.82) scale(1.0,1)" font-size="11.8" fill="#222" stroke="#222" stroke-width="0.15" text-anchor="end" font-weight="normal" >0.10</text>
<text transform="translate(16.7,63.38) scale(0.925,1)" font-size="11.4" fill="#fff" stroke="#fff" stroke-width="0.15" text-anchor="start" font-weight="normal" >SELL</text>
<text transform="translate(184.6,63.38) scale(1.0,1)" font-size="11.4" fill="#fff" stroke="#fff" stroke-width="0.15" text-anchor="start" font-weight="normal" >BUY</text>
<text transform="translate(20.5,102.95) scale(1.0,1)" font-size="12.7" fill="#fff" text-anchor="start" font-weight="bold" >20926</text>
<text transform="translate(130.5,102.95) scale(1.0,1)" font-size="12.7" fill="#fff" text-anchor="start" font-weight="bold" >20949</text>
<text x="54.9" y="103.1" font-size="50" fill="#fff" stroke="url(#gPanel)" stroke-width="1">.</text>
<text x="64.5" y="103.2" font-size="34.8" fill="#fff" stroke="url(#gPanel)" stroke-width="0.4">0</text>
<text x="166" y="103.1" font-size="50" fill="#fff" stroke="url(#gPanel)" stroke-width="1">.</text>
<text x="175.6" y="103.2" font-size="34.8" fill="#fff" stroke="url(#gPanel)" stroke-width="0.4">0</text>
<g id="toolbar">
<defs><linearGradient id="tbEdge" x1="0" y1="0" x2="0" y2="1"><stop offset="0" stop-color="#fbfbfb"/><stop offset="0.35" stop-color="#dcdcdc"/><stop offset="0.8" stop-color="#6c6c6c"/><stop offset="1" stop-color="#707070"/></linearGradient><linearGradient id="gGold" x1="0" y1="0" x2="1" y2="1"><stop offset="0" stop-color="#fbe27a"/><stop offset="0.5" stop-color="#e8b830"/><stop offset="1" stop-color="#b87c14"/></linearGradient><linearGradient id="gBlueBox" x1="0" y1="0" x2="1" y2="1"><stop offset="0" stop-color="#7cc8ff"/><stop offset="1" stop-color="#1070d8"/></linearGradient><linearGradient id="gCloud" x1="0" y1="0" x2="0" y2="1"><stop offset="0" stop-color="#ffffff"/><stop offset="1" stop-color="#b8c8e4"/></linearGradient><radialGradient id="gLens" cx="0.4" cy="0.35" r="0.7"><stop offset="0" stop-color="#eaf6ff"/><stop offset="1" stop-color="#8cc8f4"/></radialGradient><radialGradient id="gClock" cx="0.5" cy="0.45" r="0.6"><stop offset="0" stop-color="#ffffff"/><stop offset="0.8" stop-color="#e8eef8"/><stop offset="1" stop-color="#c0d0e8"/></radialGradient><linearGradient id="gBubble" x1="0" y1="0" x2="0" y2="1"><stop offset="0" stop-color="#ffffff"/><stop offset="1" stop-color="#d4d6e8"/></linearGradient><pattern id="pPressed" width="2" height="2" patternUnits="userSpaceOnUse"><rect width="2" height="2" fill="#fbfbfb"/><rect width="1" height="1" fill="#efefef"/><rect x="1" y="1" width="1" height="1" fill="#efefef"/></pattern></defs>
<rect x="0" y="0" width="1627" height="23.4" fill="#f0f0f0"/>
<rect x="0" y="23" width="1627" height="3" fill="url(#tbEdge)"/>
<text x="13.9" y="14.8" font-size="13.2" text-anchor="end" fill="#000" font-weight="500" font-family="'Liberation Sans','Noto Sans CJK SC',sans-serif">新订单</text>
<g stroke-linejoin="round"><polygon points="40,11 41.2,13.7 33.3,20 33.2,17.6" fill="#e8d8a0" stroke="#9a6410" stroke-width="0.8"/><path d="M40.4 12.2L33.3 18.6" stroke="#a87820" stroke-width="0.5"/><polygon points="25.3,12.4 33.2,17.6 33.1,20 24.9,14.3" fill="#e4b43c" stroke="#a06a10" stroke-width="0.8"/><path d="M25.6 13.4L33 18.6" stroke="#f8e490" stroke-width="0.8"/><polygon points="30.2,5 40,11 33.2,17.6 25.3,12.4" fill="url(#gGold)" stroke="#b07c14" stroke-width="0.8"/><path d="M29 11.6L31.6 7.2" stroke="#fff8c8" stroke-width="2" opacity="0.45"/></g>
<g><polygon points="55.2,4.6 59.9,5.7 59.9,13.8 55.2,14.2" fill="#1c8cf4"/><polygon points="55.2,4.6 62,3.9 66.6,5 59.9,5.7" fill="#5cb8ff"/><polygon points="59.9,5.7 66.6,5 66.6,13.6 59.9,13.8" fill="#8cccff"/><polygon points="61.2,7.2 65.6,6.8 65.6,10.2 61.2,10.5" fill="#eaf6ff"/><path d="M61.8 8.2L65 7.9M61.8 9.6L65 9.3" stroke="#3a90e8" stroke-width="0.6"/><path d="M56 19.6C52.4 19.6 52.2 15.6 55.4 15.4C55.6 12.6 59.2 12 60.6 14C62.2 12 65.6 12.8 65.8 15.2C69.4 15.2 69.8 19.6 66.2 19.6Z" fill="url(#gCloud)" stroke="#5c78b4" stroke-width="0.8"/></g>
<g fill="none"><path d="M89 11.8L89 19.6A7.8 7.8 0 0 0 92.9 5Z" fill="#9ccc9c" opacity="0.75"/><circle cx="89" cy="11.8" r="7.4" stroke="#b8d4c0" stroke-width="1.3"/><path d="M90.5 4.6A7.4 7.4 0 0 0 85 18" stroke="#7c9ce0" stroke-width="1.4"/><circle cx="89" cy="11.8" r="4.6" stroke="#a0c8b0" stroke-width="1.2"/><path d="M90 7.3A4.6 4.6 0 0 0 86.4 15.6" stroke="#4a78d8" stroke-width="1.4"/><path d="M89.4 19.8V12.2" stroke="#22aa22" stroke-width="1.7"/><circle cx="89" cy="11.6" r="1.7" fill="#2858c8" stroke="none"/></g>
<g><path d="M109.4 10C111 13.6 113.6 17.4 117.2 19.9C120 18 122.6 13.8 123.6 10Z" fill="#f6d44c" stroke="#c8a020" stroke-width="0.6"/><path d="M110 10.4L116.8 18.8L115 13Z" fill="#fff0a0" opacity="0.7"/><path d="M107.9 9.2C108.6 7 111.4 7.6 112.6 7.2C112.8 3 119.8 3 120 7.2C121.4 7.6 123.6 6.8 124.2 9C120.6 12 111.6 12 107.9 9.2Z" fill="#52a8dc" stroke="#2a7cb4" stroke-width="0.7"/><ellipse cx="116.2" cy="6" rx="2.6" ry="1.6" fill="#8cd0f4"/><path d="M112.6 7.6C114.6 8.8 118 8.8 120 7.6" stroke="#2a7cb4" stroke-width="0.6" fill="none"/><circle cx="120.4" cy="15.9" r="4" fill="#d82020" stroke="#a80c0c" stroke-width="0.5"/><rect x="119.1" y="14.6" width="2.6" height="2.6" fill="#fff"/></g>
<text x="128.9" y="15.05" font-size="12.5" fill="#000" font-weight="500" textLength="48.2" lengthAdjust="spacingAndGlyphs" font-family="'Liberation Sans','Noto Sans CJK SC',sans-serif">自动交易</text>
<rect x="184" y="0" width="1" height="24" fill="#9a9a9a"/><rect x="185" y="0" width="1" height="24" fill="#fafafa"/>
<rect x="188" y="2" width="3" height="1" fill="#9c9c9c"/><rect x="188" y="3" width="3" height="1" fill="#f8f8f8"/>
<rect x="188" y="4" width="3" height="1" fill="#9c9c9c"/><rect x="188" y="5" width="3" height="1" fill="#f8f8f8"/>
<rect x="188" y="6" width="3" height="1" fill="#9c9c9c"/><rect x="188" y="7" width="3" height="1" fill="#f8f8f8"/>
<rect x="188" y="8" width="3" height="1" fill="#9c9c9c"/><rect x="188" y="9" width="3" height="1" fill="#f8f8f8"/>
<rect x="188" y="10" width="3" height="1" fill="#9c9c9c"/><rect x="188" y="11" width="3" height="1" fill="#f8f8f8"/>
<rect x="188" y="12" width="3" height="1" fill="#9c9c9c"/><rect x="188" y="13" width="3" height="1" fill="#f8f8f8"/>
<rect x="188" y="14" width="3" height="1" fill="#9c9c9c"/><rect x="188" y="15" width="3" height="1" fill="#f8f8f8"/>
<rect x="188" y="16" width="3" height="1" fill="#9c9c9c"/><rect x="188" y="17" width="3" height="1" fill="#f8f8f8"/>
<rect x="188" y="18" width="3" height="1" fill="#9c9c9c"/><rect x="188" y="19" width="3" height="1" fill="#f8f8f8"/>
<rect x="188" y="20" width="3" height="1" fill="#9c9c9c"/><rect x="188" y="21" width="3" height="1" fill="#f8f8f8"/>
<g stroke="#545454" stroke-width="1.1" fill="none"><path d="M202.5 7.4V20M200 17.7H212.4"/></g><polygon points="202.5,5.6 204,8.2 201,8.2" fill="#545454"/><polygon points="213.9,17.7 211.6,16.2 211.6,19.2" fill="#545454"/>
<path d="M208.4 7.4V15.7M208.4 8.3H211M206 14.6H208.4" stroke="#0c8c0c" stroke-width="1.3" fill="none"/>
<rect x="222" y="0" width="26" height="23" fill="#fdfdfd"/>
<rect x="222" y="0" width="25" height="22" fill="url(#pPressed)"/>
<rect x="222" y="0" width="25" height="0.8" fill="#a4a4a4"/>
<rect x="222" y="0" width="1" height="22" fill="#b4b4b4"/>
<g stroke="#545454" stroke-width="1.1" fill="none"><path d="M230.5 7.4V20M228 17.7H240.4"/></g><polygon points="230.5,5.6 232,8.2 229,8.2" fill="#545454"/><polygon points="241.9,17.7 239.6,16.2 239.6,19.2" fill="#545454"/>
<path d="M236.5 4.2V15.7" stroke="#0a7a0a" stroke-width="1.2"/><rect x="234.4" y="6.4" width="4.2" height="7" fill="#3cdc3c" stroke="#0a8a0a" stroke-width="0.9"/>
<g stroke="#545454" stroke-width="1.1" fill="none"><path d="M258.5 7.4V20M256 17.7H268.4"/></g><polygon points="258.5,5.6 260,8.2 257,8.2" fill="#545454"/><polygon points="269.9,17.7 267.6,16.2 267.6,19.2" fill="#545454"/>
<path d="M257.3 14.6C259.6 12.4 261.4 9.3 263.2 9.3C265 9.3 266.6 12.2 268.8 13" stroke="#2a9a2a" stroke-width="1.3" fill="none"/>
<rect x="279" y="1" width="1" height="21" fill="#a8a8a8"/>
<g><path d="M298.1 14L303.3 18.6" stroke="#c8a028" stroke-width="2.6" stroke-linecap="round"/><path d="M298.5 13.6L303.3 17.8" stroke="#f4dc78" stroke-width="0.9"/><circle cx="294.1" cy="9.9" r="5.4" fill="url(#gLens)" stroke="#3a86d4" stroke-width="1.1"/><path d="M291.1 9.9H297.1M294.1 6.9V12.9" stroke="#2c6cc0" stroke-width="1.6"/></g>
<g><path d="M325.8 14L331.0 18.6" stroke="#c8a028" stroke-width="2.6" stroke-linecap="round"/><path d="M326.2 13.6L331.0 17.8" stroke="#f4dc78" stroke-width="0.9"/><circle cx="321.8" cy="9.9" r="5.4" fill="url(#gLens)" stroke="#3a86d4" stroke-width="1.1"/><path d="M318.8 9.9H324.8" stroke="#2c6cc0" stroke-width="1.6"/></g>
<g><rect x="344" y="4" width="8" height="7.8" fill="#3a9a1a"/><rect x="352.4" y="4" width="8" height="7.8" fill="#1a50c8"/><rect x="344" y="12.2" width="8" height="7.8" fill="#1a50c8"/><rect x="352.4" y="12.2" width="8" height="7.8" fill="#3a9a1a"/><rect x="345" y="7.4" width="6" height="3.4" fill="#e8f8e0"/><rect x="353.4" y="7.4" width="6" height="3.4" fill="#e0ecff"/><rect x="345" y="15.6" width="6" height="3.4" fill="#e0ecff"/><rect x="353.4" y="15.6" width="6" height="3.4" fill="#e8f8e0"/><rect x="345" y="8.6" width="6" height="0.8" fill="#3a9a1a"/><rect x="353.4" y="8.6" width="6" height="0.8" fill="#1a50c8"/><rect x="345" y="16.8" width="6" height="0.8" fill="#1a50c8"/><rect x="353.4" y="16.8" width="6" height="0.8" fill="#3a9a1a"/></g>
<rect x="369" y="1" width="1" height="21" fill="#a8a8a8"/>
<rect x="374" y="0" width="26" height="23" fill="#fdfdfd"/>
<rect x="374" y="0" width="25" height="22" fill="url(#pPressed)"/>
<rect x="374" y="0" width="25" height="0.8" fill="#a4a4a4"/>
<rect x="374" y="0" width="1" height="22" fill="#b4b4b4"/>
<g stroke="#545454" stroke-width="1.1" fill="none"><path d="M382.5 7.4V20M380 17.7H392.4"/></g><polygon points="382.5,5.6 384,8.2 381,8.2" fill="#545454"/><polygon points="393.9,17.7 391.6,16.2 391.6,19.2" fill="#545454"/>
<polygon points="387,8.6 387,14.4 390.6,11.5" fill="#6ad06a" stroke="#1a9a1a" stroke-width="0.9"/>
<rect x="402" y="0" width="26" height="23" fill="#fdfdfd"/>
<rect x="402" y="0" width="25" height="22" fill="url(#pPressed)"/>
<rect x="402" y="0" width="25" height="0.8" fill="#a4a4a4"/>
<rect x="402" y="0" width="1" height="22" fill="#b4b4b4"/>
<g stroke="#545454" stroke-width="1.1" fill="none"><path d="M410.5 7.4V20M408 17.7H420.4"/></g><polygon points="410.5,5.6 412,8.2 409,8.2" fill="#545454"/><polygon points="421.9,17.7 419.6,16.2 419.6,19.2" fill="#545454"/>
<path d="M416.6 6V16" stroke="#1a5cc0" stroke-width="1.2"/><path d="M421.4 11.4H418M419.8 9.6L417.8 11.4L419.8 13.2" stroke="#d03808" stroke-width="1" fill="none"/>
<rect x="431" y="1" width="1" height="21" fill="#a8a8a8"/>
<g><path d="M441.4 4.4H449.4L452.4 7.2V17.2H441.4Z" fill="#fcfcfc" stroke="#9a9a9a" stroke-width="0.8"/><path d="M446 7.4C444.6 7 444.4 8 444.4 9V14.6M443.2 10.4H446" stroke="#555" stroke-width="0.8" fill="none"/><path d="M449.6 10.2H453.2V13.8H456.8V17.4H453.2V21.2H449.6V17.4H446V13.8H449.6Z" fill="#22bc22" stroke="#0e8a0e" stroke-width="0.7"/><path d="M451.4 11.4V20M447.2 15.6H455.6" stroke="#6cf06c" stroke-width="1.3" opacity="0.85"/></g>
<polygon points="463.2,11 468.2,11 465.7,13.9" fill="#111"/>
<defs><linearGradient id="gRing" x1="0" y1="0" x2="1" y2="1"><stop offset="0" stop-color="#3c9cf8"/><stop offset="1" stop-color="#0a48b0"/></linearGradient></defs>
<g><circle cx="487" cy="11.7" r="7" fill="url(#gClock)" stroke="url(#gRing)" stroke-width="2.1"/><circle cx="487" cy="11.7" r="8.1" fill="none" stroke="#0c3c9c" stroke-width="0.4"/><path d="M487 8.2V12.2L489.6 13.2" stroke="#333" stroke-width="1" fill="none"/><path d="M487 6.4V7.2M487 16.2V17M481.8 11.7H482.6M491.4 11.7H492.2M483.4 8.1L483.9 8.6M490.6 8.1L490.1 8.6M483.4 15.3L483.9 14.8M490.6 15.3L490.1 14.8" stroke="#7888a8" stroke-width="0.7"/></g>
<polygon points="502.1,11 507.1,11 504.6,13.9" fill="#111"/>
<g><rect x="518.6" y="5.2" width="15.2" height="13.4" fill="#fdfdfd" stroke="#2868cc" stroke-width="1"/><rect x="518.6" y="5.2" width="15.2" height="2.4" fill="#4a88e0"/><rect x="519" y="12.2" width="14.4" height="0.8" fill="#4a88e0"/><path d="M520.4 10.6L523.4 10L526 9.2L528.6 9.8L531.8 8.8" stroke="#b82010" stroke-width="1.1" fill="none"/><path d="M520.4 16.4L523 15.4L525.4 16.2L528.2 14.4L531.8 16" stroke="#18901c" stroke-width="1.1" fill="none"/></g>
<polygon points="541,11 546,11 543.5,13.9" fill="#111"/>
<rect x="552" y="0" width="1" height="24" fill="#9a9a9a"/><rect x="553" y="0" width="1" height="24" fill="#fafafa"/>
<rect x="556" y="2" width="3" height="1" fill="#9c9c9c"/><rect x="556" y="3" width="3" height="1" fill="#f8f8f8"/>
<rect x="556" y="4" width="3" height="1" fill="#9c9c9c"/><rect x="556" y="5" width="3" height="1" fill="#f8f8f8"/>
<rect x="556" y="6" width="3" height="1" fill="#9c9c9c"/><rect x="556" y="7" width="3" height="1" fill="#f8f8f8"/>
<rect x="556" y="8" width="3" height="1" fill="#9c9c9c"/><rect x="556" y="9" width="3" height="1" fill="#f8f8f8"/>
<rect x="556" y="10" width="3" height="1" fill="#9c9c9c"/><rect x="556" y="11" width="3" height="1" fill="#f8f8f8"/>
<rect x="556" y="12" width="3" height="1" fill="#9c9c9c"/><rect x="556" y="13" width="3" height="1" fill="#f8f8f8"/>
<rect x="556" y="14" width="3" height="1" fill="#9c9c9c"/><rect x="556" y="15" width="3" height="1" fill="#f8f8f8"/>
<rect x="556" y="16" width="3" height="1" fill="#9c9c9c"/><rect x="556" y="17" width="3" height="1" fill="#f8f8f8"/>
<rect x="556" y="18" width="3" height="1" fill="#9c9c9c"/><rect x="556" y="19" width="3" height="1" fill="#f8f8f8"/>
<rect x="556" y="20" width="3" height="1" fill="#9c9c9c"/><rect x="556" y="21" width="3" height="1" fill="#f8f8f8"/>
<rect x="562" y="0" width="26" height="23" fill="#fdfdfd"/>
<rect x="562" y="0" width="25" height="22" fill="url(#pPressed)"/>
<rect x="562" y="0" width="25" height="0.8" fill="#a4a4a4"/>
<rect x="562" y="0" width="1" height="22" fill="#b4b4b4"/>
<path d="M569.8 5.2V17.4L572.6 14.8L574.8 19.4L576.6 18.6L574.4 14.2L578.2 13.8Z" fill="#484848"/>
<path d="M602.5 5.2V19.8M595.2 12.5H609.8" stroke="#484848" stroke-width="1"/>
<rect x="619" y="1" width="1" height="21" fill="#a8a8a8"/>
<path d="M636.7 6V19" stroke="#484848" stroke-width="1.1"/>
<path d="M658.8 12.5H670.8" stroke="#484848" stroke-width="1.1"/>
<path d="M686.8 18.4L699 7" stroke="#484848" stroke-width="1.1"/>
<g stroke="#484848" stroke-width="0.9" fill="none"><path d="M712.4 14.4L725.8 6.2M713.6 18.4L726.6 10.4M715.2 17.4L718 10M718.6 15.4L721.4 8M722 13.4L724.8 6"/></g>
<text x="723.4" y="20.8" font-size="6.6" font-weight="bold" fill="#333">E</text>
<g stroke="#555" stroke-width="0.9" stroke-dasharray="1,1"><path d="M742 5.6H755M742 9.4H755M742 13.2H755M742 17H750"/></g>
<text x="751.6" y="20.8" font-size="6.6" font-weight="bold" fill="#333">F</text>
<text x="776.5" y="17.3" font-size="12.4" text-anchor="middle" fill="#484848" stroke="#484848" stroke-width="0.3">A</text>
<rect x="799" y="6" width="12" height="12.6" fill="none" stroke="#555" stroke-width="0.9" stroke-dasharray="1,1"/>
<text x="805" y="17" font-size="12" text-anchor="middle" fill="#484848" stroke="#484848" stroke-width="0.3">T</text>
<g fill="#484848"><polygon points="826,9.4 829.6,5.8 833.2,9.4 829.6,11"/><polygon points="832.2,15 835.8,13.4 839.4,15 835.8,18.6"/><path d="M829.4 12.6L831.2 14.6L834.6 10.6" stroke="#484848" stroke-width="1.2" fill="none"/></g>
<polygon points="847,11 852,11 849.5,13.9" fill="#111"/>
<rect x="858" y="0" width="1" height="24" fill="#9a9a9a"/><rect x="859" y="0" width="1" height="24" fill="#fafafa"/>
<rect x="862" y="2" width="3" height="1" fill="#9c9c9c"/><rect x="862" y="3" width="3" height="1" fill="#f8f8f8"/>
<rect x="862" y="4" width="3" height="1" fill="#9c9c9c"/><rect x="862" y="5" width="3" height="1" fill="#f8f8f8"/>
<rect x="862" y="6" width="3" height="1" fill="#9c9c9c"/><rect x="862" y="7" width="3" height="1" fill="#f8f8f8"/>
<rect x="862" y="8" width="3" height="1" fill="#9c9c9c"/><rect x="862" y="9" width="3" height="1" fill="#f8f8f8"/>
<rect x="862" y="10" width="3" height="1" fill="#9c9c9c"/><rect x="862" y="11" width="3" height="1" fill="#f8f8f8"/>
<rect x="862" y="12" width="3" height="1" fill="#9c9c9c"/><rect x="862" y="13" width="3" height="1" fill="#f8f8f8"/>
<rect x="862" y="14" width="3" height="1" fill="#9c9c9c"/><rect x="862" y="15" width="3" height="1" fill="#f8f8f8"/>
<rect x="862" y="16" width="3" height="1" fill="#9c9c9c"/><rect x="862" y="17" width="3" height="1" fill="#f8f8f8"/>
<rect x="862" y="18" width="3" height="1" fill="#9c9c9c"/><rect x="862" y="19" width="3" height="1" fill="#f8f8f8"/>
<rect x="862" y="20" width="3" height="1" fill="#9c9c9c"/><rect x="862" y="21" width="3" height="1" fill="#f8f8f8"/>
<rect x="1008" y="0" width="26" height="23" fill="#fdfdfd"/>
<rect x="1008" y="0" width="25" height="22" fill="url(#pPressed)"/>
<rect x="1008" y="0" width="25" height="0.8" fill="#a4a4a4"/>
<rect x="1008" y="0" width="1" height="22" fill="#b4b4b4"/>
<text x="879.6" y="16" font-size="9.6" text-anchor="middle" fill="#333">M1</text>
<text x="908" y="16" font-size="9.6" text-anchor="middle" fill="#333">M5</text>
<text x="936.4" y="16" font-size="9.6" text-anchor="middle" fill="#333">M15</text>
<text x="964.5" y="16" font-size="9.6" text-anchor="middle" fill="#333">M30</text>
<text x="992.2" y="16" font-size="9.6" text-anchor="middle" fill="#333">H1</text>
<text x="1019.3" y="16" font-size="9.6" text-anchor="middle" fill="#333">H4</text>
<text x="1048.4" y="16" font-size="9.6" text-anchor="middle" fill="#333">D1</text>
<text x="1077.2" y="16" font-size="9.6" text-anchor="middle" fill="#333">W1</text>
<text x="1103.9" y="16" font-size="9.6" text-anchor="middle" fill="#333">MN</text>
<rect x="1119" y="0" width="1" height="24" fill="#a8a8a8"/>
<g><path d="M1586.4 12.8L1582.4 16.6" stroke="#1a48c0" stroke-width="2.6" stroke-linecap="round"/><circle cx="1589.5" cy="9.4" r="3.8" fill="#f4f4f4" stroke="#2a5cd8" stroke-width="1.2"/></g>
<g><path d="M1615.6 8.8C1615.6 3.2 1629 3.2 1629 8.8C1629 12 1626 13.4 1624.4 13.4L1625.6 15.6L1622.4 13.4C1618 13.6 1615.6 11.6 1615.6 8.8Z" fill="url(#gBubble)" stroke="#9a9a9a" stroke-width="0.8"/><path d="M1608.2 12.8C1608.2 8.4 1618.6 8.4 1618.6 12.8C1618.6 15.8 1615 16.8 1613 16.6L1610.4 18.8L1611.2 16.4C1609.4 15.8 1608.2 14.6 1608.2 12.8Z" fill="url(#gBubble)" stroke="#8c8c8c" stroke-width="0.8"/></g>
</g>
</svg>
</body></html>
